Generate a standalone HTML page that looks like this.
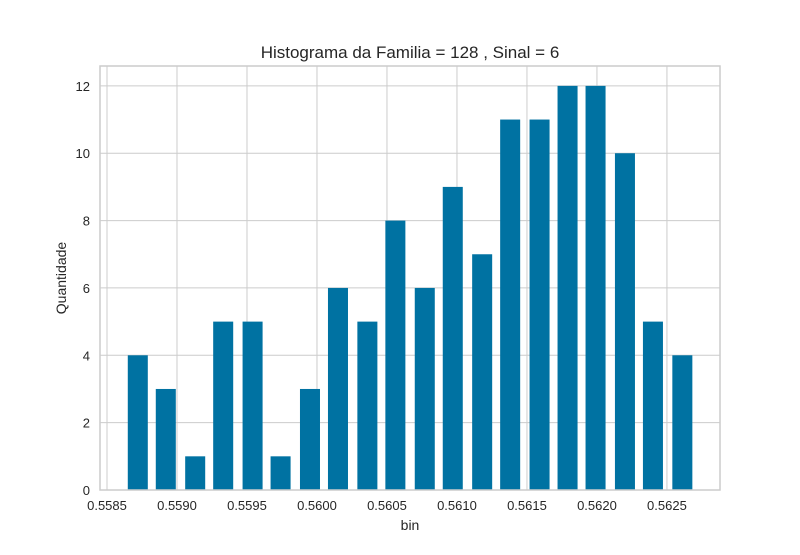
<!DOCTYPE html>
<html><head><meta charset="utf-8"><style>
body{margin:0;background:#fff;}
svg text{font-family:"Liberation Sans",sans-serif;fill:#262626;}
</style></head><body>
<svg id="chart" width="800" height="550">
<rect width="800" height="550" fill="#fff"/>
<g id="grid"></g><g id="bars"></g><g id="axes"></g>
<text x="410" y="58" text-anchor="middle" font-size="17">Histograma da Familia = 128 , Sinal = 6</text>
<text x="410" y="530" text-anchor="middle" font-size="14">bin</text>
<text x="66" y="278" text-anchor="middle" font-size="14" transform="rotate(-90 66 278)">Quantidade</text>
</svg>
<script>
const binCenters=[0.55872,0.55892,0.55913,0.55933,0.55954,0.55974,0.55995,0.56015,0.56036,0.56056,0.56077,0.56097,0.56118,0.56138,0.56159,0.56179,0.56199,0.56220,0.56240,0.56261];
const counts=[4,3,1,5,5,1,3,6,5,8,6,9,7,11,11,12,12,10,5,4];
const xTicks=[0.5585,0.5590,0.5595,0.5600,0.5605,0.5610,0.5615,0.5620,0.5625];
const yTicks=[0,2,4,6,8,10,12];
const barWidth=0.000143;
const X0=100,X1=720,Y0=490,Y1=66;
const xMin=0.55845,xMax=0.562879,yMin=0,yMax=12.59;
const sx=v=>X0+(v-xMin)/(xMax-xMin)*(X1-X0);
const sy=v=>Y0-(v-yMin)/(yMax-yMin)*(Y0-Y1);
const NS="http://www.w3.org/2000/svg";
const grid=document.getElementById('grid'),bars=document.getElementById('bars'),axes=document.getElementById('axes');
function mk(tag,attrs,parent){const e=document.createElementNS(NS,tag);for(const k in attrs)e.setAttribute(k,attrs[k]);parent.appendChild(e);return e;}
xTicks.forEach(t=>{
 const x=sx(t);
 const l=mk('line',{x1:x,x2:x,y1:Y1,y2:Y0,stroke:'#cccccc','stroke-width':1},grid);
 
 
 const tx=mk('text',{x:x,y:Y0+20,'text-anchor':'middle','font-size':13},axes);
 tx.textContent=t.toFixed(4);
 
 
});
yTicks.forEach(t=>{
 const y=sy(t);
 const l=mk('line',{x1:X0,x2:X1,y1:y,y2:y,stroke:'#cccccc','stroke-width':1},grid);
 
 
 const tx=mk('text',{x:X0-10,y:y+5,'text-anchor':'end','font-size':13},axes);
 tx.textContent=t;
 
 
});
binCenters.forEach((c,i)=>{
 const x=sx(c-barWidth/2),w=sx(c+barWidth/2)-x,y=sy(counts[i]);
 const r=mk('rect',{x:x,y:y,width:w,height:sy(0)-y,fill:'#0072a2'},bars);
 
 
});
const f=mk('rect',{x:X0,y:Y1,width:X1-X0,height:Y0-Y1,fill:'none',stroke:'#cccccc','stroke-width':1.5},axes);


</script>
</body></html>
